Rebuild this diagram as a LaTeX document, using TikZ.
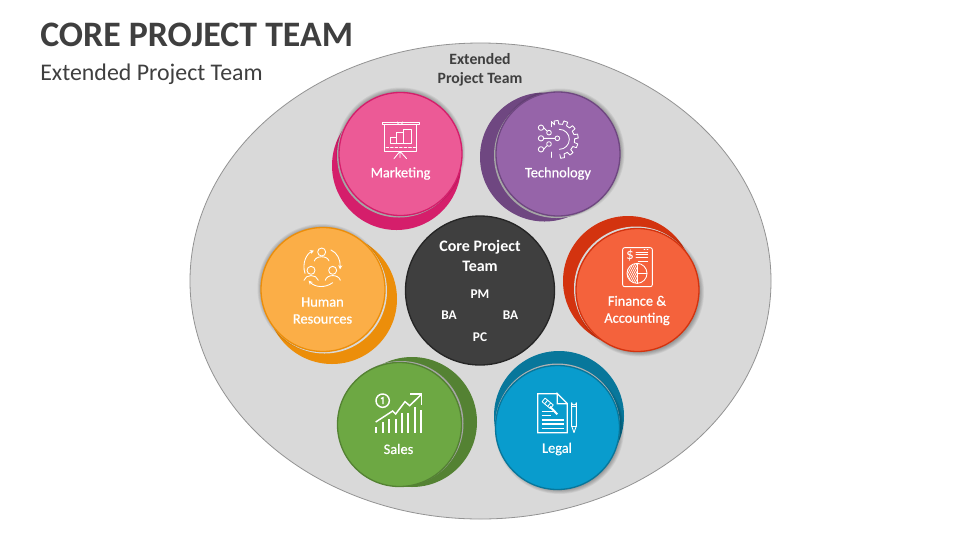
\documentclass[tikz,border=0pt]{standalone}
\usepackage{fontspec}
\setmainfont{Carlito}
\newfontfamily\labelfont[FakeBold=0.6]{Carlito}
\usetikzlibrary{arrows.meta}
\definecolor{ink}{HTML}{3F3F3F}
\definecolor{field}{HTML}{D9D9D9}
\definecolor{mkF}{HTML}{EC5A96}\definecolor{mkB}{HTML}{D51E6B}
\definecolor{teF}{HTML}{9664A9}\definecolor{teB}{HTML}{6F4781}
\definecolor{hrF}{HTML}{FBAE47}\definecolor{hrB}{HTML}{EC8E0A}
\definecolor{fiF}{HTML}{F4623C}\definecolor{fiB}{HTML}{D3330F}
\definecolor{saF}{HTML}{6DA843}\definecolor{saB}{HTML}{548233}
\definecolor{leF}{HTML}{099CCD}\definecolor{leB}{HTML}{08779B}
\tikzset{
  x=0.75pt,y=-0.75pt,
  label text/.style={text=white,font=\fontsize{10.8}{12.75}\labelfont,align=center,inner sep=0pt},
  dark text/.style={text=ink,font=\fontsize{11.8}{14.25}\selectfont\bfseries,align=center,inner sep=0pt},
  core text/.style={text=white,font=\fontsize{10}{12}\selectfont\bfseries,align=center,inner sep=0pt},
  icon/.style={draw=white,line width=0.65pt,line cap=round,line join=round},
  iconb/.style={draw=white,line width=1.1pt,line join=miter},
}
\newcommand{\softshadow}[4]{% x y dx dy
  \foreach \k in {0,1,...,5}{
    \fill[black,opacity=0.055] ({#1+#3},{#2+#4}) circle ({64.5-\k*0.8});
  }}
\begin{document}
\begin{tikzpicture}
\useasboundingbox (0,0) rectangle (960,540);
\fill[white] (0,0) rectangle (960,540);
\node[anchor=west,inner sep=0pt,text=ink,font=\fontsize{26.85}{30}\selectfont\bfseries] (title) at (40,35) {CORE PROJECT TEAM};
\node[anchor=west,inner sep=0pt,text=ink,font=\fontsize{17.9}{20}\selectfont] (subtitle) at (40,74.5) {Extended Project Team};
\draw[draw=gray!85,line width=0.6pt,fill=field] (480.5,281) ellipse (290.5 and 238);
\node[dark text] (extended) at (480,70) {Extended\\Project Team};

% Marketing
\fill[mkB] (396.5,165.5) circle (64.5);
\softshadow{400.5}{154}{0}{-2}
\fill[gray!70] (399,155.5) circle (62);
\draw[draw=mkB,line width=1pt,fill=mkF] (400.5,154) circle (61.5);
% Technology
\fill[teB] (544.5,157) circle (64.5);
\softshadow{558}{154}{2}{-1}
\fill[gray!70] (556.5,155.5) circle (62.5);
\draw[draw=teB,line width=1pt,fill=teF] (558,154) circle (62);
% Human Resources
\fill[hrB] (332,299) circle (65);
\softshadow{323}{289.5}{-1}{-1}
\fill[field] (324.5,291) circle (62.5);
\draw[draw=hrB,line width=1pt,fill=hrF] (323,289.5) circle (62);
% Finance
\fill[fiB] (628,281) circle (65);
\softshadow{637.5}{290}{2}{2}
\fill[field] (636,288.5) circle (62);
\draw[draw=fiB,line width=1pt,fill=fiF] (637.5,290) circle (61.5);
% Sales
\fill[saB] (412,422) circle (65);
\fill[gray!70] (401,423.5) circle (62.5);
\draw[draw=saB,line width=1pt,fill=saF] (399.5,424.5) circle (62);
% Legal
\fill[leB] (559,416) circle (65);
\softshadow{557.5}{427.5}{2}{2}
\fill[gray!60] (557.5,426) circle (62.5);
\draw[draw=leB,line width=1pt,fill=leF] (557.5,427.5) circle (62);
% Core
\draw[draw=black!85,line width=1pt,fill=ink] (480,290.5) circle (74.5);

% Labels
\node[label text] (marketing) at (400.5,173.5) {Marketing};
\node[label text] (technology) at (558,173.5) {Technology};
\node[label text] (hr) at (322.5,310.5) {Human\\Resources};
\node[label text] (finance) at (637,310.5) {Finance \&\\Accounting};
\node[label text] (sales) at (398.5,449) {Sales};
\node[label text] (legal) at (557,449) {Legal};
\node[core text,font=\fontsize{12}{15}\selectfont\bfseries] (core) at (480,255.5) {Core Project\\Team};
\node[core text] (pm) at (480,294) {PM};
\node[core text] (ba1) at (449,315) {BA};
\node[core text] (ba2) at (510.5,315) {BA};
\node[core text] (pc) at (480,337) {PC};

% Marketing icon
\begin{scope}[shift={(320,80)},scale=1/3]
  \draw[icon] (186,126) rectangle (298,134);
  \draw[icon] (232,126) arc[start angle=180,end angle=0,radius=8];
  \draw[icon] (192,134) -- (192,214) -- (290,214) -- (290,134);
  \draw[icon] (210,190) -- (210,172) -- (230,172) -- (230,157) -- (250,157) -- (250,148) -- (274,148) -- (274,190) -- cycle;
  \draw[icon] (230,172) -- (230,190) (250,157) -- (250,190);
  \draw[icon,dash pattern=on 2pt off 1.4pt] (198,203) -- (286,203);
  \draw[icon] (240,214) -- (222,236) (240,214) -- (260,236) (240,214) -- (240,232);
\end{scope}

% Technology icon
\begin{scope}[shift={(320,80)},scale=1/3]
  \draw[icon] (694,125)
    \foreach \a in {-100,-70,...,100}{ -- ({718+46*cos(\a-8)},{178+46*sin(\a-8)}) -- ({718+57*cos(\a-6)},{178+57*sin(\a-6)}) -- ({718+57*cos(\a+6)},{178+57*sin(\a+6)}) -- ({718+46*cos(\a+8)},{178+46*sin(\a+8)}) };
  \draw[icon] (718,148) arc[start angle=-90,end angle=90,radius=30];
  \draw[icon] (694,125) -- (694,140) (694,232) -- (694,216);
  \draw[icon] (663,143) circle (8) (663,175) circle (8) (663,208) circle (8);
  \draw[icon] (687,158) circle (7) (687,192) circle (7) (712,175) circle (7);
  \draw[icon] (671,175) -- (705,175) (671,143) -- (680,152) (671,208) -- (680,198);
\end{scope}

% HR icon
\begin{scope}[shift={(250,210)},scale=1/3]
  \draw[icon] (215,126) circle (12) (183,181) circle (12) (248,181) circle (12);
  \draw[icon] (193,153) .. controls (197,136) and (233,136) .. (237,153);
  \draw[icon] (162,211) .. controls (166,192) and (200,192) .. (205,211);
  \draw[icon] (226,211) .. controls (230,192) and (266,192) .. (271,211);
  \draw[icon,-{Stealth[length=3pt,width=3pt]}] (165,190) .. controls (155,160) and (170,130) .. (192,122);
  \draw[icon,-{Stealth[length=3pt,width=3pt]}] (243,120) .. controls (262,128) and (272,150) .. (270,178);
  \draw[icon,-{Stealth[length=3pt,width=3pt]}] (248,218) .. controls (225,235) and (195,232) .. (176,212);
\end{scope}

% Finance icon
\begin{scope}[shift={(555,210)},scale=1/3]
  \draw[icon,rounded corners=1.5pt] (203,113) rectangle (292,230);
  \node[text=white,inner sep=0pt,font=\fontsize{11.5}{11.5}\selectfont] (dollar) at (225,138) {\$};
  \draw[icon] (243,126) -- (278,126) (243,134) -- (278,134) (243,143) -- (278,143) (250,153) -- (278,153) (267,119) -- (270,119) (276,119) -- (279,119);
  \draw[icon] (246,190) circle (30);
  \draw[icon] (246,190) -- (246,160) (246,190) -- (246,220) (246,190) -- (276,190);
  \begin{scope}
    \clip (246,160) arc[start angle=-90,end angle=-270,radius=30] -- cycle;
    \foreach \d in {0,6,...,66}{ \draw[white,line width=0.5pt] ({210+\d},160) -- ({210+\d-30},220); }
  \end{scope}
\end{scope}

% Sales icon
\begin{scope}[shift={(325,350)},scale=1/3]
  \draw[iconb] (173,152) circle (20);
  \draw[white,line width=1pt] (168,146) -- (174,143) -- (174,162);
  \draw[iconb] (152,216) -- (203,183) -- (212,192) -- (240,155) -- (254,167) -- (288,134);
  \draw[iconb] (255,132) -- (290,132) -- (290,165);
  \foreach \px/\py in {153/232,174/217,193/207,212/207,231/190,250/190,270/170,288/180}{
    \draw[white,line width=1.6pt] (\px,248) -- (\px,\py);
  }
\end{scope}

% Legal icon
\begin{scope}[shift={(325,350)},scale=1/3]
  \draw[iconb,line width=0.9pt] (697,131) -- (638,131) -- (638,248) -- (727,248) -- (727,161) -- (697,131) -- (697,161) -- (727,161);
  \draw[white,line width=1pt] (650,184) -- (685,184) (650,197) -- (678,197) (650,210) -- (716,210) (650,222) -- (716,222) (650,235) -- (716,235);
  \begin{scope}[shift={(668,160)},rotate=-40]
    \fill[leF] (-21,-10) rectangle (21,10);
    \draw[icon] (-16,-7) rectangle (16,7);
    \draw[icon] (-6,-7) -- (-6,7) (6,-7) -- (6,7);
  \end{scope}
  \draw[white,line width=1.5pt] (675,170) -- (697,193);
  \draw[icon] (740,158) arc[start angle=180,end angle=0,radius=7] -- (754,228) -- (747,248) -- (740,228) -- cycle;
  \draw[icon] (740,168) -- (754,168) (740,228) -- (754,228);
\end{scope}
\end{tikzpicture}
\end{document}
